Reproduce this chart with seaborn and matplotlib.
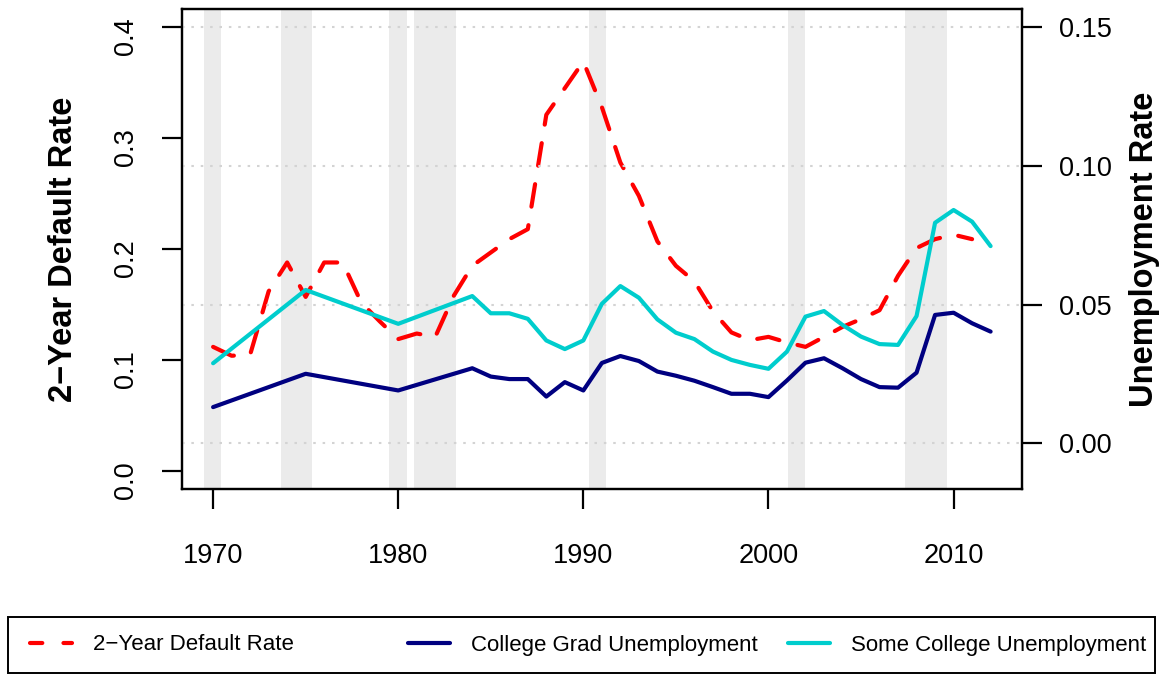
import numpy as np
import pandas as pd
import seaborn as sns
import matplotlib.pyplot as plt
from matplotlib.lines import Line2D
from matplotlib.patches import Rectangle

# 2-year cohort default rate (left axis)
default_years = list(range(1970, 2012))
default_rate = [0.112, 0.104, 0.105, 0.162, 0.188, 0.157, 0.188, 0.188, 0.152, 0.135,
                0.119, 0.124, 0.121, 0.158, 0.185, 0.197, 0.209, 0.218, 0.321, 0.345,
                0.369, 0.328, 0.278, 0.248, 0.207, 0.185, 0.171, 0.144, 0.125, 0.118,
                0.121, 0.116, 0.112, 0.121, 0.130, 0.137, 0.145, 0.176, 0.201, 0.209,
                0.213, 0.209]

# unemployment rates (right axis)
unemp_years = [1970, 1975, 1980] + list(range(1984, 2013))
college_grad = [0.0131, 0.0251, 0.0191, 0.0271, 0.0241, 0.0232, 0.0232, 0.0169, 0.0221, 0.0191,
                0.0290, 0.0315, 0.0297, 0.0259, 0.0244, 0.0226, 0.0203, 0.0179, 0.0179, 0.0167,
                0.0227, 0.0291, 0.0307, 0.0271, 0.0232, 0.0203, 0.0201, 0.0255, 0.0463, 0.0471,
                0.0433, 0.0403]
some_college = [0.0289, 0.0553, 0.0431, 0.0531, 0.0469, 0.0469, 0.0449, 0.0371, 0.0340, 0.0371,
                0.0503, 0.0567, 0.0525, 0.0447, 0.0399, 0.0376, 0.0331, 0.0301, 0.0283, 0.0269,
                0.0331, 0.0457, 0.0477, 0.0427, 0.0385, 0.0358, 0.0355, 0.0459, 0.0795, 0.0841,
                0.0799, 0.0711]

recessions = [(1969.5, 1970.45), (1973.66, 1975.33), (1979.5, 1980.45), (1980.85, 1983.1),
              (1990.28, 1991.22), (2001.03, 2001.98), (2007.4, 2009.64)]

labels = ['2\u2212Year Default Rate', 'College Grad Unemployment', 'Some College Unemployment']

sns.set_style('ticks')
plt.rcParams['font.family'] = ['Liberation Sans', 'DejaVu Sans']
plt.rcParams.update({'text.color': 'black', 'axes.labelcolor': 'black',
                     'xtick.color': 'black', 'ytick.color': 'black',
                     'axes.edgecolor': 'black'})

W, H = 1161, 674
fig = plt.figure(figsize=(W / 100, H / 100), dpi=100)
ax = fig.add_axes([182 / W, 1 - 489 / H, (1021.7 - 182) / W, (489 - 9.3) / H])
ax2 = ax.twinx()

for start, end in recessions:
    ax.axvspan(start, end, color='#ebebeb', lw=0, zorder=0)

sns.lineplot(x=default_years, y=default_rate, ax=ax, color='red', lw=3,
             linestyle=(0, (5.47, 4.5)), dash_capstyle='round', legend=False)
sns.lineplot(x=unemp_years, y=college_grad, ax=ax2, color='#000080', lw=3,
             solid_capstyle='round', solid_joinstyle='round', legend=False)
sns.lineplot(x=unemp_years, y=some_college, ax=ax2, color='#00cdcd', lw=3,
             solid_capstyle='round', solid_joinstyle='round', legend=False)

ax.set_xlim(1968.32, 2013.68)
ax.set_ylim(-0.016, 0.416)
ax2.set_ylim(-0.0164, 0.1564)

ax.set_xticks([1970, 1980, 1990, 2000, 2010])
ax.set_yticks([0, 0.1, 0.2, 0.3, 0.4])
ax.set_yticklabels(['0.0', '0.1', '0.2', '0.3', '0.4'])
ax2.set_yticks([0, 0.05, 0.10, 0.15])
ax2.set_yticklabels(['0.00', '0.05', '0.10', '0.15'])

ax.grid(False)
ax2.yaxis.grid(True, color='#d3d3d3', lw=1.5, linestyle=(0, (1.2, 3.3)))
ax2.xaxis.grid(False)

for a in (ax, ax2):
    for sp in a.spines.values():
        sp.set_visible(True)
        sp.set_linewidth(1.6)
        sp.set_color('black')

ax.tick_params(axis='x', length=14.4, width=1.6, labelsize=19.5, pad=24.7, direction='out',
               colors='black')
ax.tick_params(axis='y', length=14.4, width=1.6, labelsize=19.5, pad=16.5, labelrotation=90,
               direction='out', colors='black')
ax2.tick_params(axis='y', length=14.4, width=1.6, labelsize=19.5, pad=12.6, direction='out',
                right=True, colors='black')

ax.set_xlabel('')
ax.set_ylabel(labels[0], fontsize=23.5, fontweight='bold', color='black')
ax.yaxis.set_label_coords(-0.1231, 0.5)
ax2.set_ylabel('Unemployment Rate', fontsize=23.5, fontweight='bold', color='black')
ax2.yaxis.set_label_coords(1.1278, 0.5)

# legend: three entries in a single framed row
handles = [
    Line2D([], [], color='red', lw=3, linestyle=(0, (2.95, 5.08)), dash_capstyle='round'),
    Line2D([], [], color='#000080', lw=3, solid_capstyle='round'),
    Line2D([], [], color='#00cdcd', lw=3, solid_capstyle='round'),
]
leg_x = [29.6, 408, 788]
for h, lab, x in zip(handles, labels, leg_x):
    leg = fig.legend(handles=[h], labels=[lab], loc='center left',
                     bbox_to_anchor=(x / W, 1 - 645 / H), frameon=False, fontsize=16,
                     handlelength=1.9, handletextpad=0.94, borderpad=0, borderaxespad=0)
    for t in leg.get_texts():
        t.set_color('black')
fig.add_artist(Rectangle((8 / W, 1 - 673 / H), (1155 - 8) / W, (673 - 617) / H,
                         transform=fig.transFigure, fill=False, lw=1.4, edgecolor='black'))

fig.savefig('out.png', dpi=100)
